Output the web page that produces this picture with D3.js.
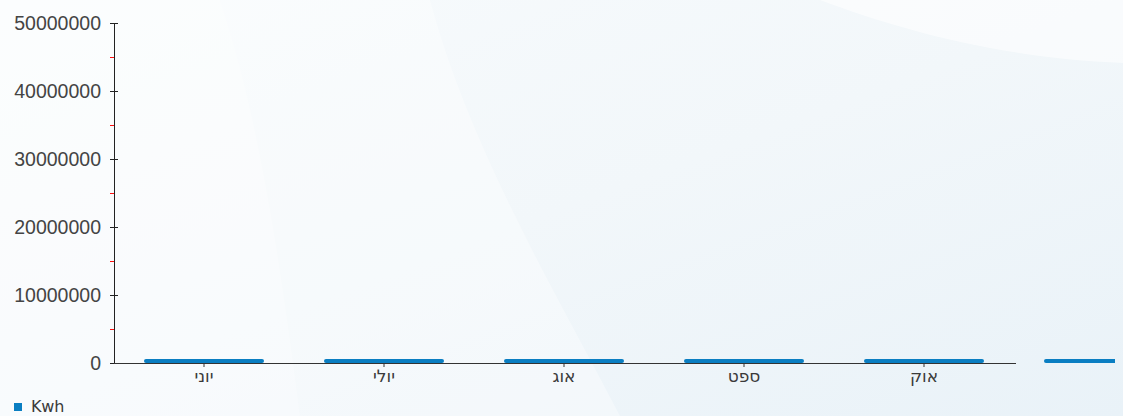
<!DOCTYPE html>
<html><head><meta charset="utf-8">
<script src="https://cdn.jsdelivr.net/npm/d3@7"></script>
<style>html,body{margin:0;padding:0;overflow:hidden;background:#f6f9fb}</style>
</head><body><svg id="c" width="1123" height="416"></svg>
<script>
const categories = ["יוני","יולי","אוג","ספט","אוק",""];
const kwhValues = [600000, 600000, 600000, 600000, 600000, 600000];
const yTicks = [0,10000000,20000000,30000000,40000000,50000000];
const yMinorTicks = [5000000,15000000,25000000,35000000,45000000];
const seriesName = "Kwh";

const W=1123,H=416;
const svg=d3.select("#c");
const defs=svg.append("defs");
const g1=defs.append("linearGradient").attr("id","bg").attr("x1","0").attr("y1","0").attr("x2","1").attr("y2","1");
g1.append("stop").attr("offset","0").attr("stop-color","#f8fbfd");
g1.append("stop").attr("offset","0.5").attr("stop-color","#f2f7fa");
g1.append("stop").attr("offset","1").attr("stop-color","#e9f2f8");
svg.append("rect").attr("width",W).attr("height",H).attr("fill","url(#bg)");
svg.append("path").attr("d","M0,0 L430,0 C470,150 560,300 620,416 L0,416 Z").attr("fill","#ffffff").attr("opacity",0.35);
svg.append("path").attr("d","M0,0 L220,0 C260,120 280,260 300,416 L0,416 Z").attr("fill","#ffffff").attr("opacity",0.25);
svg.append("path").attr("d","M820,0 C900,30 1000,58 1123,63 L1123,0 Z").attr("fill","#ffffff").attr("opacity",0.55);
const clip=defs.append("clipPath").attr("id","cl");
clip.append("rect").attr("x",0).attr("y",0).attr("width",1115).attr("height",H);

const x0=114, step=180;
const x=d3.scaleBand().domain(categories).range([x0,x0+step*categories.length]).padding(0);
const y=d3.scaleLinear().domain([0,50000000]).range([363,23]);

// bars
const bw=x.bandwidth()*2/3;
svg.append("g").attr("clip-path","url(#cl)").selectAll("rect").data(categories).join("rect")
  .attr("x",d=>x(d)+(x.bandwidth()-bw)/2)
  .attr("y",(d,i)=>y(kwhValues[i]))
  .attr("width",bw)
  .attr("height",(d,i)=>y(0)-y(kwhValues[i]))
  .attr("rx",2).attr("fill","#0a7ec2");

// y axis
const ya=svg.append("g").attr("transform","translate(114,0)");
ya.append("line").attr("x1",0.5).attr("x2",0.5).attr("y1",y(50000000)).attr("y2",y(0)).attr("stroke","#222");
ya.selectAll(".mj").data(yTicks).join("line").attr("x1",-4).attr("x2",4)
  .attr("y1",d=>Math.round(y(d))+0.5).attr("y2",d=>Math.round(y(d))+0.5).attr("stroke","#222");
ya.selectAll(".mn").data(yMinorTicks).join("line").attr("x1",-4).attr("x2",0)
  .attr("y1",d=>Math.round(y(d))+0.5).attr("y2",d=>Math.round(y(d))+0.5).attr("stroke","#ff1010");
ya.selectAll("text").data(yTicks).join("text").attr("x",-13).attr("y",d=>y(d)).attr("dy","0.36em")
  .attr("text-anchor","end").attr("font-family","Liberation Sans, Arial, sans-serif").attr("font-size",19.5)
  .attr("fill","#444").text(d=>d3.format("d")(d));

// x axis
const xa=svg.append("g");
xa.append("line").attr("x1",x0).attr("x2",x0+step*5+2).attr("y1",363.5).attr("y2",363.5).attr("stroke","#333");
const labeled=categories.filter(c=>c!=="");
xa.selectAll(".t").data(labeled).join("line").attr("x1",d=>x(d)+x.bandwidth()/2).attr("x2",d=>x(d)+x.bandwidth()/2)
  .attr("y1",363).attr("y2",367).attr("stroke","#333");
xa.selectAll("text").data(labeled).join("text").attr("x",d=>x(d)+x.bandwidth()/2).attr("y",382)
  .attr("text-anchor","middle").attr("font-family","DejaVu Sans, sans-serif").attr("font-size",17)
  .attr("fill","#3a3a3a").text(d=>d);

// legend
svg.append("rect").attr("x",14).attr("y",403).attr("width",8).attr("height",8).attr("fill","#0a7ec2");
svg.append("text").attr("x",31).attr("y",412).attr("font-family","DejaVu Sans, sans-serif").attr("font-size",16)
  .attr("letter-spacing",-0.2).attr("fill","#3a3a3a").text(seriesName);
</script></body></html>
